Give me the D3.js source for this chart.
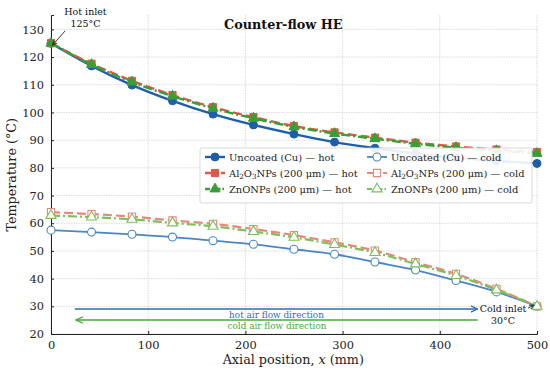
<!doctype html>
<html lang="en">
<head>
<meta charset="UTF-8">
<title>Counter-flow HE</title>
<script src="https://cdn.jsdelivr.net/npm/d3@7"></script>
<style>
  body { margin: 0; background: #fff; }
</style>
</head>
<body>
<script>
// axial positions (mm), 13 stations
var positions = [0, 41.7, 83.3, 125, 166.7, 208.3, 250, 291.7, 333.3, 375, 416.7, 458.3, 500];

var uncoatedHot  = [125, 116.8, 109.9, 104.2, 99.4, 95.5, 92.2, 89.3, 87.1, 85.2, 83.6, 82.5, 81.6];
var al2o3Hot     = [125, 117.6, 111.4, 106.3, 101.9, 98.3, 95.1, 92.8, 90.9, 89.1, 87.7, 86.6, 85.7];
var znoHot       = [125, 117.3, 111.0, 105.9, 101.5, 97.9, 94.8, 92.4, 90.5, 88.7, 87.3, 86.2, 85.2];
var uncoatedCold = [57.5, 56.8, 56.0, 55.0, 53.7, 52.4, 50.6, 48.8, 46.0, 43.1, 39.3, 35.2, 30];
var al2o3Cold    = [64.0, 63.3, 62.4, 61.0, 59.8, 57.9, 55.7, 53.1, 50.1, 45.9, 41.7, 36.3, 30];
var znoCold      = [62.8, 62.2, 61.4, 60.1, 58.9, 57.0, 54.9, 52.3, 49.4, 45.3, 41.1, 35.9, 30];

var xTicks = [0, 100, 200, 300, 400, 500];
var yTicks = [20, 30, 40, 50, 60, 70, 80, 90, 100, 110, 120, 130];

var W = 550, H = 371;
var FONT = "DejaVu Serif";
var margin = {left: 51, right: 13, top: 15, bottom: 37};

var svg = d3.select("body").append("svg").attr("width", W).attr("height", H)
  .attr("font-family", FONT);

// scale a text's font so it spans the given width, return the size used
function fitText(t, width) {
  var fs = +t.attr("font-size") || 12;
  var w = t.node().getComputedTextLength();
  if (w > 0) { fs = fs * width / w; t.attr("font-size", fs); }
  return fs;
}

var x = d3.scaleLinear().domain([0, 500]).range([margin.left, W - margin.right]);
var y = d3.scaleLinear().domain([20, 135.2]).range([H - margin.bottom, margin.top]);

// dotted grid
var grid = svg.append("g");
grid.selectAll(".gx").data(xTicks).enter().append("line")
  .attr("x1", d => x(d)).attr("x2", d => x(d))
  .attr("y1", y(20)).attr("y2", y(135.2))
  .attr("stroke", "#d2d2d2").attr("stroke-width", 0.8).attr("stroke-dasharray", "1.5,1");
grid.selectAll(".gy").data(yTicks).enter().append("line")
  .attr("x1", x(0)).attr("x2", x(500))
  .attr("y1", d => y(d)).attr("y2", d => y(d))
  .attr("stroke", "#d2d2d2").attr("stroke-width", 0.8).attr("stroke-dasharray", "1.5,1");

// axes (left + bottom only), ticks pointing in
var xAxis = svg.append("g").attr("transform", "translate(0," + y(20) + ")")
  .call(d3.axisBottom(x).tickValues(xTicks).tickSize(-3).tickPadding(7));
var yAxis = svg.append("g").attr("transform", "translate(" + x(0) + ",0)")
  .call(d3.axisLeft(y).tickValues(yTicks).tickSize(-3).tickPadding(7));
[xAxis, yAxis].forEach(function(a) {
  a.attr("font-family", FONT).attr("font-size", 11.4);
  a.select(".domain").attr("stroke", "#222").attr("stroke-width", 1);
  a.selectAll(".tick line").attr("stroke", "#222");
  a.selectAll("text").attr("fill", "#222");
});

// series
var series = [
  {name: "Uncoated (Cu) \u2014 hot",  vals: uncoatedHot,  color: "#1f5fa8", dash: null,      w: 2.4, marker: "circle",   fill: true},
  {name: "Al\u2082O\u2083NPs (200 \u03bcm) \u2014 hot", vals: al2o3Hot, color: "#e0584a", dash: "9,4", w: 2.4, marker: "square", fill: true},
  {name: "ZnONPs (200 \u03bcm) \u2014 hot", vals: znoHot, color: "#3a9e35", dash: "9,3,2,3", w: 2.4, marker: "triangle", fill: true},
  {name: "Uncoated (Cu) \u2014 cold", vals: uncoatedCold, color: "#4a86c5", dash: null,      w: 1.8, marker: "circle",   fill: false},
  {name: "Al\u2082O\u2083NPs (200 \u03bcm) \u2014 cold", vals: al2o3Cold, color: "#e8877c", dash: "9,4", w: 2.2, marker: "square", fill: false},
  {name: "ZnONPs (200 \u03bcm) \u2014 cold", vals: znoCold, color: "#7cc05a", dash: "9,3,2,3", w: 2.2, marker: "triangle", fill: false}
];

var symbolType = {circle: d3.symbolCircle, square: d3.symbolSquare, triangle: d3.symbolTriangle};
var symbolSize = {circle: 50, square: 52, triangle: 44};

var line = d3.line().x((d, i) => x(positions[i])).y(d => y(d)).curve(d3.curveMonotoneX);

function drawMarker(g, s, cx, cy) {
  g.append("path")
    .attr("d", d3.symbol().type(symbolType[s.marker]).size(symbolSize[s.marker])())
    .attr("transform", "translate(" + cx + "," + cy + ")")
    .attr("fill", s.fill ? s.color : "#fff")
    .attr("stroke", s.color)
    .attr("stroke-width", s.fill ? 1 : 1.1);
}

// draw cold first, then hot on top
[3, 4, 5, 0, 1, 2].forEach(function(k) {
  var s = series[k];
  var g = svg.append("g");
  g.append("path").datum(s.vals).attr("d", line)
    .attr("fill", "none").attr("stroke", s.color).attr("stroke-width", s.w)
    .attr("stroke-dasharray", s.dash);
  s.vals.forEach(function(v, i) { drawMarker(g, s, x(positions[i]), y(v)); });
});

// legend
var leg = svg.append("g");
leg.append("rect").attr("x", 200).attr("y", 148).attr("width", 332).attr("height", 55)
  .attr("rx", 2).attr("fill", "#fff").attr("fill-opacity", 0.9)
  .attr("stroke", "#cfcfcf").attr("stroke-width", 0.8);

// measure the legend font from the first entry
var probe = leg.append("text").attr("font-size", 10).text(series[0].name);
var legFs = fitText(probe, 105.7);
probe.remove();

var legOrder = [0, 3, 1, 4, 2, 5];
legOrder.forEach(function(k, j) {
  var s = series[k];
  var col = j % 2, row = Math.floor(j / 2);
  var lx = col === 0 ? 205 : 367, ly = 157 + row * 16;
  leg.append("line").attr("x1", lx).attr("x2", lx + 20).attr("y1", ly).attr("y2", ly)
    .attr("stroke", s.color).attr("stroke-width", s.w)
    .attr("stroke-dasharray", s.dash ? (s.marker === "square" ? "6,2" : "5,2,1.5,2") : null);
  drawMarker(leg, s, lx + 10, ly);
  var t = leg.append("text").attr("x", lx + 24).attr("y", ly + 3.8)
    .attr("font-size", legFs).attr("fill", "#222");
  if (s.marker === "square") {
    t.append("tspan").text("Al");
    t.append("tspan").attr("font-size", legFs * 0.72).attr("dy", 2.5).text("2");
    t.append("tspan").attr("dy", -2.5).text("O");
    t.append("tspan").attr("font-size", legFs * 0.72).attr("dy", 2.5).text("3");
    t.append("tspan").attr("dy", -2.5).text(s.name.replace("Al\u2082O\u2083", ""));
  } else {
    t.text(s.name);
  }
});

// title
var title = svg.append("text").attr("x", 283.3).attr("y", 28.5).attr("text-anchor", "middle")
  .attr("font-size", 12).attr("font-weight", "bold").attr("fill", "#111").text("Counter-flow HE");
fitText(title, 118.7);

// axis labels
var xLab = svg.append("text").attr("x", 293.3).attr("y", 364).attr("text-anchor", "middle")
  .attr("font-size", 12).attr("fill", "#222")
  .html("Axial position, <tspan font-style='italic'>x</tspan> (mm)");
var labFs = fitText(xLab, 141.3);
svg.append("text").attr("transform", "translate(16," + y(77.5) + ") rotate(-90)")
  .attr("text-anchor", "middle").attr("font-size", labFs).attr("fill", "#222").text("Temperature (\u00b0C)");

// arrowheads
var defs = svg.append("defs");
function marker(id, color) {
  defs.append("marker").attr("id", id).attr("viewBox", "0 0 10 10").attr("refX", 9).attr("refY", 5)
    .attr("markerWidth", 6).attr("markerHeight", 6).attr("orient", "auto-start-reverse")
    .append("path").attr("d", "M0,1 L9,5 L0,9").attr("fill", "none").attr("stroke", color).attr("stroke-width", 1.6);
}
marker("ab", "#222"); marker("ablue", "#2e6db4"); marker("agreen", "#4aa83a");

// inlet annotations
var hi = svg.append("text").attr("x", 85.5).attr("y", 15).attr("text-anchor", "middle").attr("font-size", 10).attr("fill", "#111").text("Hot inlet");
var annFs = fitText(hi, 42.4);
svg.append("text").attr("x", 85.5).attr("y", 27).attr("text-anchor", "middle").attr("font-size", annFs).attr("fill", "#111").text("125\u00b0C");
svg.append("line").attr("x1", 65).attr("y1", 31).attr("x2", x(1.5)).attr("y2", y(124.3))
  .attr("stroke", "#222").attr("stroke-width", 0.9).attr("marker-end", "url(#ab)");

svg.append("text").attr("x", 503).attr("y", 312).attr("text-anchor", "middle").attr("font-size", annFs).attr("fill", "#111").text("Cold inlet");
svg.append("text").attr("x", 503).attr("y", 324).attr("text-anchor", "middle").attr("font-size", annFs).attr("fill", "#111").text("30\u00b0C");
svg.append("line").attr("x1", 528).attr("y1", 308).attr("x2", x(497)).attr("y2", y(30.4))
  .attr("stroke", "#222").attr("stroke-width", 0.9).attr("marker-end", "url(#ab)");

// flow direction arrows
svg.append("line").attr("x1", x(24.5)).attr("x2", x(439)).attr("y1", 309).attr("y2", 309)
  .attr("stroke", "#2e6db4").attr("stroke-width", 1.3).attr("marker-end", "url(#ablue)");
var hf = svg.append("text").attr("x", 276.5).attr("y", 318).attr("text-anchor", "middle").attr("font-size", 9)
  .attr("fill", "#2e6db4").text("hot air flow direction");
var flowFs = fitText(hf, 95);
svg.append("line").attr("x1", x(439)).attr("x2", x(25.5)).attr("y1", 320).attr("y2", 320)
  .attr("stroke", "#4aa83a").attr("stroke-width", 1.3).attr("marker-end", "url(#agreen)");
svg.append("text").attr("x", 277).attr("y", 329).attr("text-anchor", "middle").attr("font-size", flowFs)
  .attr("fill", "#4aa83a").text("cold air flow direction");
</script>
</body>
</html>
